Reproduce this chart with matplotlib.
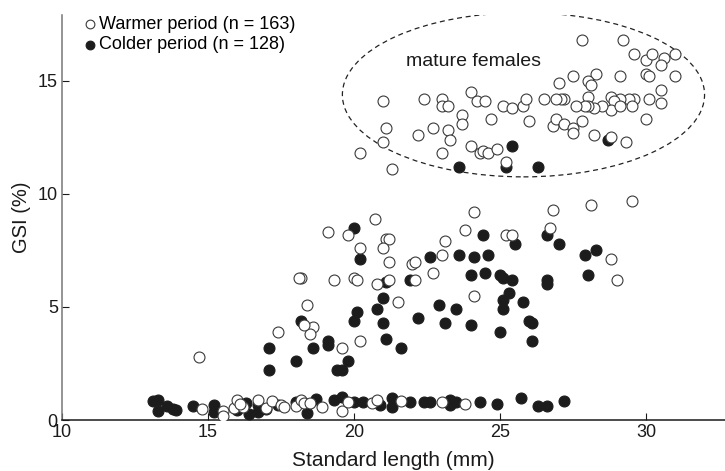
import matplotlib
matplotlib.use("Agg")
import matplotlib.pyplot as plt
from matplotlib.patches import Ellipse

plt.rcParams['font.family'] = ['Liberation Sans', 'DejaVu Sans']

# warmer period (open symbols): standard length (mm), GSI (%)
warm_sl = [27.8, 29.2, 29.6, 30.0, 30.2, 30.6, 30.5, 31.0, 31.0, 29.1, 30.0, 30.1,
           28.3, 28.0, 28.1, 27.5, 27.0, 30.5, 30.5, 30.1, 29.6, 29.4, 29.1, 28.8,
           28.9, 28.8, 29.1, 29.5, 28.5, 28.2, 28.0, 28.0, 27.9, 27.6, 27.2, 27.1,
           26.9, 26.5, 30.0, 26.8, 26.9, 27.2, 27.5, 27.5, 27.8, 28.2, 28.8, 29.3,
           21.0, 22.4, 23.0, 23.0, 23.2, 24.0, 24.2, 24.5, 25.1, 25.4, 25.8, 25.9,
           23.7, 23.7, 24.7, 26.0, 21.1, 22.7, 23.2, 22.2, 21.0, 23.3, 23.0, 24.0,
           24.3, 24.4, 24.6, 24.9, 25.2, 21.3, 20.2,
           20.7, 19.8, 19.1, 21.1, 21.2, 21.0, 20.2, 21.2, 18.2, 18.1, 19.3, 20.0,
           20.1, 20.8, 21.2, 24.1, 26.8, 28.1, 29.5, 23.8, 25.2, 25.4, 26.7, 28.8,
           29.0, 23.1, 23.0, 22.0, 22.1, 22.7, 22.1, 24.1, 21.5, 20.2, 19.6, 18.6,
           18.5, 14.7, 17.4, 18.4, 18.3,
           14.8, 15.5, 15.5, 15.9, 16.0, 16.2, 16.1, 16.7, 17.0, 17.2, 17.5, 17.6,
           18.0, 18.2, 18.3, 18.5, 18.9, 19.6, 19.8, 20.6, 20.8, 21.6, 23.0, 23.8]
warm_gsi = [16.8, 16.8, 16.2, 15.9, 16.2, 16.0, 15.7, 16.2, 15.2, 15.2, 15.3, 15.2,
            15.3, 15.0, 14.8, 15.2, 14.9, 14.6, 14.0, 14.2, 14.2, 14.2, 14.2, 14.3,
            14.1, 13.7, 13.9, 13.9, 13.9, 13.8, 14.3, 13.9, 13.9, 13.9, 14.2, 14.2,
            14.2, 14.2, 13.3, 13.0, 13.3, 13.1, 12.9, 12.7, 13.2, 12.6, 12.5, 12.3,
            14.1, 14.2, 14.2, 13.9, 13.9, 14.5, 14.1, 14.1, 13.9, 13.8, 13.9, 14.2,
            13.5, 13.1, 13.3, 13.2, 12.9, 12.9, 12.8, 12.6, 12.3, 12.4, 11.8, 12.1,
            11.8, 11.9, 11.8, 12.0, 11.4, 11.1, 11.8,
            8.9, 8.2, 8.3, 8.0, 8.0, 7.6, 7.6, 7.0, 6.3, 6.3, 6.2, 6.3,
            6.2, 6.0, 6.2, 9.2, 9.3, 9.5, 9.7, 8.4, 8.2, 8.2, 8.5, 7.1,
            6.2, 7.9, 7.3, 6.9, 7.0, 6.5, 6.2, 5.5, 5.2, 3.5, 3.2, 4.1,
            3.8, 2.8, 3.9, 5.1, 4.2,
            0.50, 0.42, 0.20, 0.54, 0.88, 0.57, 0.70, 0.88, 0.54, 0.83, 0.66, 0.60,
            0.64, 0.88, 0.77, 0.74, 0.59, 0.42, 0.81, 0.74, 0.88, 0.86, 0.81, 0.72]

# colder period (filled symbols)
cold_sl = [23.6, 25.2, 26.3, 25.4, 28.7,
           20.0, 20.2, 21.1, 21.0, 24.4, 25.5, 26.6, 27.0, 27.9, 28.3, 28.0, 22.6,
           23.6, 24.1, 24.6, 21.9, 24.0, 24.5, 25.0, 25.1, 25.4, 26.6, 26.6, 25.3,
           25.1, 25.1, 25.8, 20.1, 20.0, 20.8, 21.0, 21.1, 21.6, 22.2, 22.9, 23.5,
           23.1, 24.0, 25.0, 26.0, 26.1, 26.1, 19.1, 19.1, 18.6, 19.8, 19.4, 19.6,
           17.1, 17.1, 18.0, 18.2,
           13.1, 13.3, 13.3, 13.6, 13.8, 13.9, 14.5, 15.2, 15.2, 16.0, 16.3, 16.4,
           16.7, 16.7, 17.0, 17.4, 18.0, 18.4, 18.7, 19.3, 19.6, 20.0, 20.3, 20.9,
           21.3, 21.3, 21.9, 22.4, 22.6, 23.3, 23.3, 23.5, 24.3, 24.9, 25.7, 26.3,
           26.6, 27.2]
cold_gsi = [11.2, 11.2, 11.2, 12.1, 12.4,
            8.5, 7.1, 6.1, 5.4, 8.2, 7.8, 8.2, 7.8, 7.3, 7.5, 6.4, 7.2,
            7.3, 7.2, 7.3, 6.2, 6.4, 6.5, 6.4, 6.3, 6.2, 6.2, 6.0, 5.6,
            5.3, 4.9, 5.2, 4.8, 4.4, 4.9, 4.3, 3.6, 3.2, 4.5, 5.1, 4.9,
            4.3, 4.2, 3.9, 4.4, 4.3, 3.5, 3.5, 3.3, 3.2, 2.6, 2.2, 2.2,
            3.2, 2.2, 2.6, 4.4,
            0.85, 0.90, 0.40, 0.62, 0.50, 0.44, 0.64, 0.66, 0.37, 0.45, 0.74, 0.27,
            0.66, 0.38, 0.47, 0.69, 0.80, 0.30, 0.92, 0.88, 1.03, 0.81, 0.79, 0.66,
            0.96, 0.59, 0.81, 0.81, 0.81, 0.88, 0.66, 0.82, 0.81, 0.70, 0.96, 0.62,
            0.62, 0.84]

x_ticks = [10, 15, 20, 25, 30]
y_ticks = [0, 5, 10, 15]

fig = plt.figure(figsize=(7.25, 4.71), dpi=100)
ax = fig.add_axes([0.0855, 0.108, 0.9145, 0.86])

ax.scatter(cold_sl, cold_gsi, s=62, facecolor='#1c1c1c', edgecolor='#1c1c1c',
           linewidth=0.8, label='Colder period (n = 128)', zorder=3)
ax.scatter(warm_sl, warm_gsi, s=62, facecolor='white', edgecolor='#3a3a3a',
           linewidth=0.8, label='Warmer period (n = 163)', zorder=4)

# dashed outline around the mature females
ax.add_patch(Ellipse((25.8, 14.38), 12.4, 7.26, fill=False, linestyle=(0, (4, 3)),
                     edgecolor='#222222', linewidth=0.9, zorder=2))
ax.text(24.1, 15.85, 'mature females', fontsize=14, ha='center', va='center',
        color='#1a1a1a')

ax.set_xlim(10, 32.7)
ax.set_ylim(0, 17.9)
ax.set_xticks(x_ticks)
ax.set_yticks(y_ticks)
ax.tick_params(direction='in', length=5, width=0.8, labelsize=13,
               colors='#1a1a1a', pad=3)
ax.spines['top'].set_visible(False)
ax.spines['right'].set_visible(False)
ax.spines['left'].set_color('#777777')
ax.spines['bottom'].set_color('#1a1a1a')
ax.spines['left'].set_linewidth(1.1)
ax.spines['bottom'].set_linewidth(1.1)

ax.set_xlabel('Standard length (mm)', fontsize=15, color='#1a1a1a', labelpad=7)
ax.set_ylabel('GSI (%)', fontsize=14.5, color='#1a1a1a', labelpad=5)

handles, labels = ax.get_legend_handles_labels()
ax.legend(handles[::-1], labels[::-1], loc='upper left', bbox_to_anchor=(0.013, 1.025),
          frameon=False, fontsize=13, markerscale=0.8, handletextpad=0.0,
          handlelength=1.0, borderaxespad=0.2, labelspacing=0.2)

fig.savefig('out.png', dpi=100)
